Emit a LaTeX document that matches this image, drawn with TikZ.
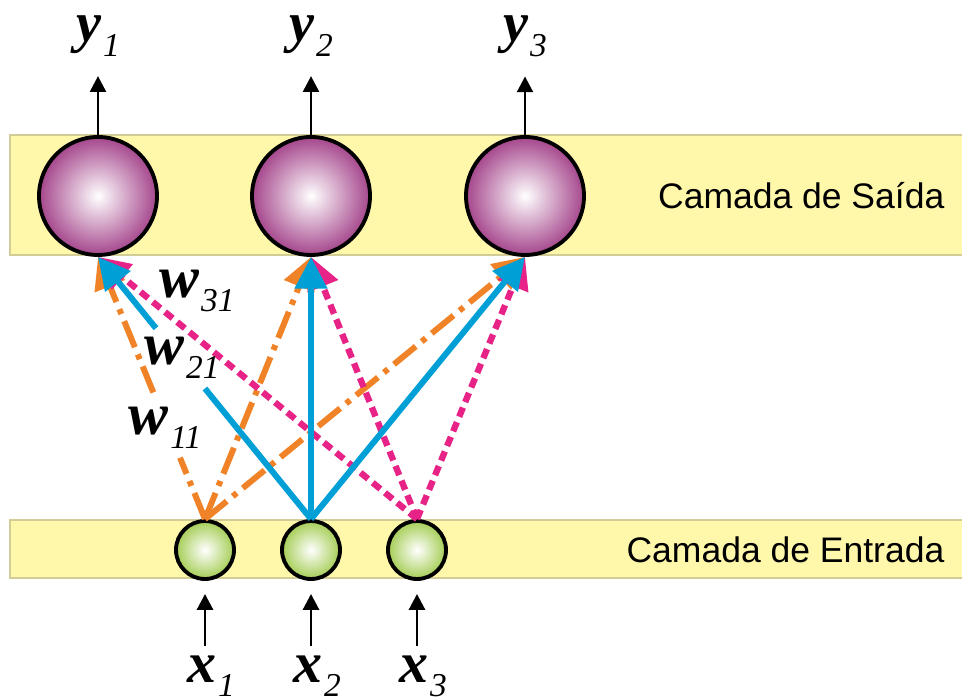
\documentclass[tikz,border=0pt]{standalone}
\usepackage{fontspec}
\setmainfont{Liberation Serif}
\newfontfamily\layerfont{Liberation Sans}
\usetikzlibrary{arrows.meta}
\usetikzlibrary{calc}
\definecolor{bandyellow}{RGB}{255,247,170}
\definecolor{bandedge}{RGB}{210,205,150}
\definecolor{outpurple}{RGB}{165,70,140}
\definecolor{ingreen}{RGB}{165,205,85}
\definecolor{wOrange}{RGB}{240,130,40}
\definecolor{wBlue}{RGB}{0,160,215}
\definecolor{wPink}{RGB}{232,35,135}
\newcommand{\varlab}[3]{\fontsize{#3}{16}\selectfont\bfseries\itshape #1\kern0.5pt\raisebox{-4pt}{\fontsize{9.5}{10}\selectfont\mdseries\itshape #2}}

\begin{document}
\begin{tikzpicture}[
    band/.style={fill=bandyellow,draw=bandedge,line width=0.4pt},
    outneuron/.style={circle,draw=black,line width=1.1pt,minimum size=1.18cm,inner sep=0pt,inner color=white,outer color=outpurple},
    inneuron/.style={circle,draw=black,line width=1.1pt,minimum size=0.58cm,inner sep=0pt,inner color=white,outer color=ingreen},
    sig/.style={-{Triangle[length=4.5pt,width=4.5pt]},line width=0.8pt},
    wbase/.style={line width=1.7pt,-{Triangle[length=9pt,width=9pt]}},
    wx1/.style={wbase,draw=wOrange,dash pattern=on 8pt off 2.2pt on 1.5pt off 2.2pt},
    wx2/.style={wbase,draw=wBlue},
    wx3/.style={wbase,draw=wPink,line width=1.8pt,dash pattern=on 2.8pt off 1.7pt},
    lab/.style={inner sep=1pt,anchor=base},
    layer/.style={anchor=east,inner sep=0pt,font=\layerfont\fontsize{10.1}{12}\selectfont}
]
    \useasboundingbox (0,0) rectangle (9.62,6.99);
    %%% LAYERS %%%
    \fill[band] (0.1,4.44) rectangle (9.7,5.64);
    \fill[band] (0.1,1.21) rectangle (9.7,1.79);
    \draw[bandedge,line width=0.4pt] (0.1,4.44) rectangle (9.7,5.64);
    \draw[bandedge,line width=0.4pt] (0.1,1.21) rectangle (9.7,1.79);
    \node[layer] (saida) at (9.45,5.03) {Camada de Saída};
    \node[layer] (entrada) at (9.45,1.49) {Camada de Entrada};
    % neurons %
    \node[outneuron] (out1) at (0.98,5.03) {};
    \node[outneuron] (out2) at (3.11,5.03) {};
    \node[outneuron] (out3) at (5.25,5.03) {};
    \node[inneuron] (in1) at (2.05,1.49) {};
    \node[inneuron] (in2) at (3.11,1.49) {};
    \node[inneuron] (in3) at (4.17,1.49) {};
    % outputs and inputs %
    \node[lab] (ylab1) at (0.98,6.57) {\varlab{y}{1}{16}};
    \node[lab] (ylab2) at (3.11,6.57) {\varlab{y}{2}{16}};
    \node[lab] (ylab3) at (5.25,6.57) {\varlab{y}{3}{16}};
    \node[lab] (xlab1) at (2.11,0.17) {\varlab{x}{1}{16.5}};
    \node[lab] (xlab2) at (3.17,0.17) {\varlab{x}{2}{16.5}};
    \node[lab] (xlab3) at (4.23,0.17) {\varlab{x}{3}{16.5}};
    \draw[sig,shorten >=4.5pt] (out1.north) -- (ylab1.south -| out1.north);
    \draw[sig,shorten >=4.5pt] (out2.north) -- (ylab2.south -| out2.north);
    \draw[sig,shorten >=4.5pt] (out3.north) -- (ylab3.south -| out3.north);
    \draw[sig,shorten <=1.5pt,shorten >=3.7pt] (xlab1.north -| in1.south) -- (in1.south);
    \draw[sig,shorten <=1.5pt,shorten >=3.7pt] (xlab2.north -| in2.south) -- (in2.south);
    \draw[sig,shorten <=1.5pt,shorten >=3.7pt] (xlab3.north -| in3.south) -- (in3.south);
    %%% WEIGHTS %%%
    % from x1 %
    \draw[wx1,-] (in1.north) -- ($(in1.north)!0.234!(out1.south)$);
    \draw[wx1] ($(in1.north)!0.483!(out1.south)$) -- (out1.south);
    \draw[wx1] (in1.north) -- (out2.south);
    \draw[wx1] (in1.north) -- (out3.south);
    % from x3 %
    \draw[wx3] (in3.north) -- (out1.south);
    \draw[wx3] (in3.north) -- (out2.south);
    \draw[wx3] (in3.north) -- (out3.south);
    % from x2 %
    \draw[wx2,-] (in2.north) -- ($(in2.north)!0.498!(out1.south)$);
    \draw[wx2] ($(in2.north)!0.728!(out1.south)$) -- (out1.south);
    \draw[wx2] (in2.north) -- (out2.south);
    \draw[wx2] (in2.north) -- (out3.south);
    % weight labels %
    \node (w31) at (1.97,4.08) {\varlab{w}{31}{17}};
    \node (w21) at (1.82,3.41) {\varlab{w}{21}{17}};
    \node (w11) at (1.65,2.71) {\varlab{w}{11}{17}};
\end{tikzpicture}
\end{document}
